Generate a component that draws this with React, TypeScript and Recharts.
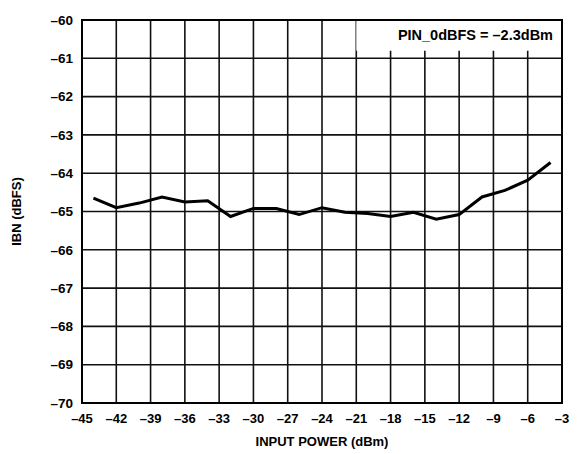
import { LineChart, Line, XAxis, YAxis, CartesianGrid, ReferenceArea, Label } from "recharts";

const INPUT_POWER = [-44, -42, -40, -38, -36, -34, -32, -30, -28, -26, -24, -22, -20, -18, -16, -14, -12, -10, -8, -6, -4];
const IBN = [-64.65, -64.9, -64.78, -64.62, -64.75, -64.72, -65.13, -64.92, -64.92, -65.08, -64.9, -65.02, -65.05, -65.13, -65.02, -65.2, -65.08, -64.62, -64.45, -64.18, -63.72];

const X_TICKS = [-45, -42, -39, -36, -33, -30, -27, -24, -21, -18, -15, -12, -9, -6, -3];
const Y_TICKS = [-70, -69, -68, -67, -66, -65, -64, -63, -62, -61, -60];
const NOTE = "PIN_0dBFS = \u20132.3dBm";

const data = INPUT_POWER.map((x, i) => ({ x, ibn: IBN[i] }));
const fmt = (v: number) => (v < 0 ? "\u2013" + Math.abs(v) : String(v));
const FONT = "'Liberation Sans', Arial, sans-serif";

export default function App() {
  return (
    <div style={{ position: "absolute", left: 0, top: 0, background: "#fff" }}>
      <LineChart width={586} height={454} data={data} margin={{ top: 20, right: 24, bottom: 21, left: 32 }}>
        <CartesianGrid stroke="#111" strokeWidth={1.6} />
        <XAxis
          dataKey="x"
          type="number"
          domain={[-45, -3]}
          ticks={X_TICKS}
          tickFormatter={fmt}
          tickLine={false}
          axisLine={false}
          tickSize={0}
          tickMargin={11}
          height={30}
          tick={{ fill: "#000", fontSize: 13, fontWeight: 700, fontFamily: FONT }}
        >
          <Label
            value="INPUT POWER (dBm)"
            position="bottom"
            offset={4}
            style={{ fill: "#000", fontSize: 13, fontWeight: 700, fontFamily: FONT }}
          />
        </XAxis>
        <YAxis
          type="number"
          domain={[-70, -60]}
          ticks={Y_TICKS}
          tickFormatter={fmt}
          tickLine={false}
          axisLine={false}
          tickSize={0}
          tickMargin={9}
          width={50}
          tick={{ fill: "#000", fontSize: 13.5, fontWeight: 700, fontFamily: FONT }}
        >
          <Label
            value="IBN (dBFS)"
            angle={-90}
            position="insideLeft"
            offset={-16}
            style={{ fill: "#000", fontSize: 13, fontWeight: 700, fontFamily: FONT, textAnchor: "middle" }}
          />
        </YAxis>
        <ReferenceArea x1={-21} x2={-3} y1={-60.8} y2={-60} fill="#fff" fillOpacity={1} stroke="none">
          <Label
            value={NOTE}
            position="insideRight"
            offset={9}
            style={{ fill: "#000", fontSize: 14.5, fontWeight: 700, fontFamily: FONT }}
          />
        </ReferenceArea>
        <Line
          dataKey="ibn"
          stroke="#000"
          strokeWidth={3}
          dot={false}
          type="linear"
          isAnimationActive={false}
        />
        <ReferenceArea x1={-45} x2={-3} y1={-70} y2={-60} fill="none" stroke="#000" strokeWidth={2} />
      </LineChart>
    </div>
  );
}
